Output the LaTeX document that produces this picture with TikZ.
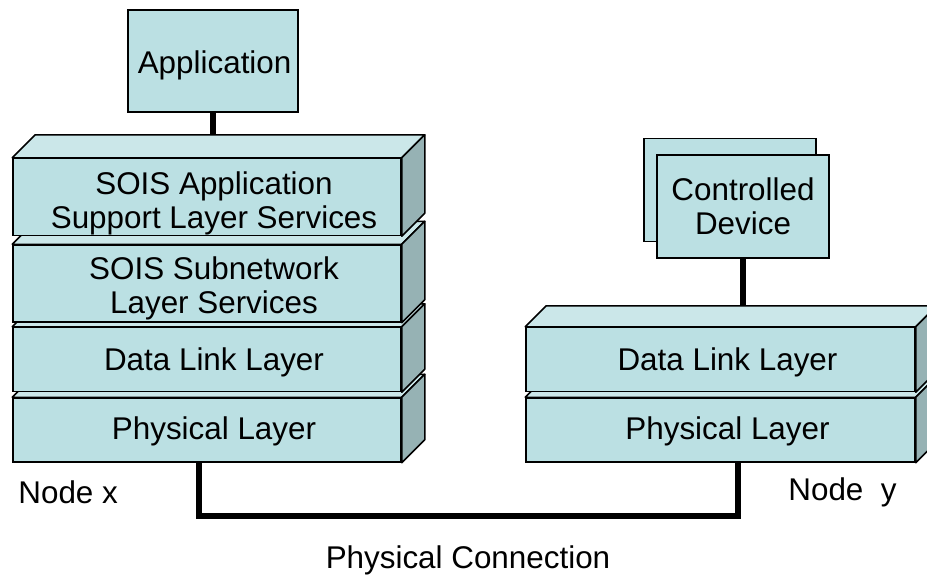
\documentclass[tikz,border=0pt]{standalone}
\usepackage{fontspec}
\setmainfont{Liberation Sans}
\usetikzlibrary{positioning, calc}
\definecolor{frontcol}{RGB}{187,224,227}
\definecolor{topcol}{RGB}{203,231,233}
\definecolor{sidecol}{RGB}{150,178,180}
\tikzstyle{layer} = [rectangle, inner sep=0pt, minimum width=194pt, minimum height=32pt, text centered, align=center, draw=black, line width=0.75pt, fill=frontcol]
\tikzstyle{tall} = [layer, minimum height=38.5pt]
\tikzstyle{inbox} = [align=center, inner sep=0pt, xshift=3.5pt, yshift=-1.5pt]
\tikzstyle{inbox2} = [inbox, yshift=-1pt]
\tikzstyle{device} = [rectangle, inner sep=0pt, minimum width=86pt, minimum height=51.5pt, text centered, align=center, draw=black, line width=0.75pt, fill=frontcol]
\tikzstyle{wire} = [line width=3pt]
\tikzstyle{caption} = [inner sep=0pt]
% top and side faces of a layer, #2 = depth
\newcommand{\slab}[2]{
    \filldraw[fill=topcol, line width=0.75pt, line join=round] (#1.north west) -- ++(#2,-#2) -- ($(#1.north east)+(#2,-#2)$) -- (#1.north east) -- cycle;
    \filldraw[fill=sidecol, line width=0.75pt, line join=round] (#1.north east) -- ++(#2,-#2) -- ($(#1.south east)+(#2,-#2)$) -- (#1.south east) -- cycle;
    \coordinate (#1back) at ($(#1.north)+(#2,-#2)$);
}

\begin{document}
\begin{tikzpicture}[x=0.5pt, y=-0.5pt, font=\fontsize{15.7}{17}\selectfont]
        \useasboundingbox (0,0) rectangle (927,578);

        % node x
        \node (lphy) [layer, label={[inbox, yshift=1pt]center:Physical Layer}] at (207,430) {};
        \slab{lphy}{23}
        \node (ldl) [layer, above=2.5pt of lphy, label={[inbox]center:Data Link Layer}] {};
        \slab{ldl}{23}
        \node (snl) [tall, above=2pt of ldl, label={[inbox2]center:{SOIS Subnetwork\\Layer Services}}] {};
        \slab{snl}{23}
        \node (asl) [tall, above=4pt of snl, label={[inbox2, yshift=-0.5pt]center:{SOIS Application\\Support Layer Services}}] {};
        \slab{asl}{23}
        \node (app) [device, minimum width=85pt, minimum height=51pt, label={[inbox, xshift=-2.7pt, yshift=-0.5pt]center:Application}] at (213,61) {};

        % node y
        \node (rphy) [layer, minimum width=194.5pt, label={[inbox, yshift=1pt]center:Physical Layer}] at (720.5,430) {};
        \slab{rphy}{21}
        \node (rdl) [layer, minimum width=194.5pt, above=2.5pt of rphy, label={[inbox]center:Data Link Layer}] {};
        \slab{rdl}{21}
        \node (devback) [device] at (730,190) {};
        \node (dev) [device] at (743,206.5) {Controlled\\Device};

        \draw[wire] (app.south) -- (app.south |- aslback);
        \draw[wire] (dev.south) -- (dev.south |- rdlback);
        \draw[wire] ([xshift=-4pt]lphy.south) -- ++(0,53) -| ([xshift=8.5pt]rphy.south);

        \node (nodex) [caption, anchor=west] at (18,492) {Node x};
        \node (nodey) [caption, anchor=west] at (788,492) {Node~~y};
        \node (conn) [caption] at (468,560) {Physical Connection};
    \end{tikzpicture}
\end{document}
